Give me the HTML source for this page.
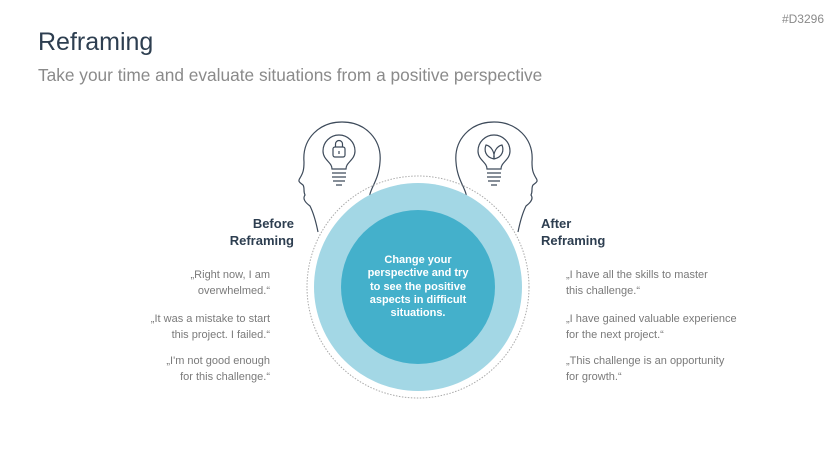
<!DOCTYPE html>
<html><head><meta charset="utf-8"><style>
body{margin:0;width:836px;height:470px;background:#fff;position:relative;overflow:hidden;font-family:"Liberation Sans",sans-serif}
.a{position:absolute}
.q{color:#7a7a7a;font-size:11px;line-height:16px}
.h{color:#2d3e50;font-size:13px;font-weight:bold;line-height:17px}
</style></head><body>
<div class="a" style="left:38px;top:28px;font-size:25px;color:#2d3e50">Reframing</div>
<div class="a" style="left:38px;top:65px;font-size:17.3px;color:#8a8a8a">Take your time and evaluate situations from a positive perspective</div>
<div class="a" style="right:12px;top:12px;font-size:12px;color:#8a8a8a">#D3296</div>
<svg class="a" style="left:0;top:0" width="836" height="470">
<g fill="none" stroke="#3d4a5a" stroke-width="1.2">
<path d="M318,232 C316,222 314,214 310,206 C306,203 302,199 305,195 C303,191 305,188 303,185 C301,183 297,182 300,178 C303,173 304,170 304,162 C302,138 320,122 342,122 C366,122 382,140 380,162 C379,178 372,186 370,194 C368,205 368,212 368,222"/>
<path d="M518,232 C520,222 522,214 526,206 C530,203 534,199 531,195 C533,191 531,188 533,185 C535,183 539,182 536,178 C533,173 532,170 532,162 C534,138 516,122 494,122 C470,122 454,140 456,162 C457,178 464,186 466,194 C468,205 468,212 468,222"/>
<path d="M332,169 C332,162 323,160 323,151 A16,16 0 1 1 355,151 C355,160 346,162 346,169 Z"/>
<path d="M332,173 H346 M332,177 H346 M333,181 H345 M336,185 H342"/>
<rect x="333" y="147" width="12" height="10" rx="2"/><path d="M335.5,147 V144 A3.5,3.5 0 0 1 342.5,144 V147 M339,151 V154"/>
<path d="M487,169 C487,162 478,160 478,151 A16,16 0 1 1 510,151 C510,160 501,162 501,169 Z"/>
<path d="M487,173 H501 M487,177 H501 M488,181 H500 M491,185 H497"/>
<path d="M494,159 C485,157 484,150 486,145 C491,146 495,152 494,159 C493,152 497,146 502,145 C504,150 503,157 494,159"/>
</g>
<circle cx="418" cy="287" r="111" fill="none" stroke="#aaa" stroke-width="1" stroke-dasharray="1.5 1.5"/>
<circle cx="418" cy="287" r="104" fill="#a3d7e5"/>
<circle cx="418" cy="287" r="77" fill="#44b0cb"/>
</svg>
<div class="a" style="left:338px;top:254px;width:160px;text-align:center;color:#fff;font-weight:bold;font-size:11px;line-height:13.3px">Change your<br>perspective and try<br>to see the positive<br>aspects in difficult<br>situations.</div>
<div class="a h" style="right:542px;top:215px;text-align:right">Before<br>Reframing</div>
<div class="a q" style="right:566px;top:267px;text-align:right">„Right now, I am<br>overwhelmed.“</div>
<div class="a q" style="right:566px;top:311px;text-align:right">„It was a mistake to start<br>this project. I failed.“</div>
<div class="a q" style="right:566px;top:353px;text-align:right">„I'm not good enough<br>for this challenge.“</div>
<div class="a h" style="left:541px;top:215px">After<br>Reframing</div>
<div class="a q" style="left:566px;top:267px">„I have all the skills to master<br>this challenge.“</div>
<div class="a q" style="left:566px;top:311px">„I have gained valuable experience<br>for the next project.“</div>
<div class="a q" style="left:566px;top:353px">„This challenge is an opportunity<br>for growth.“</div>
</body></html>
